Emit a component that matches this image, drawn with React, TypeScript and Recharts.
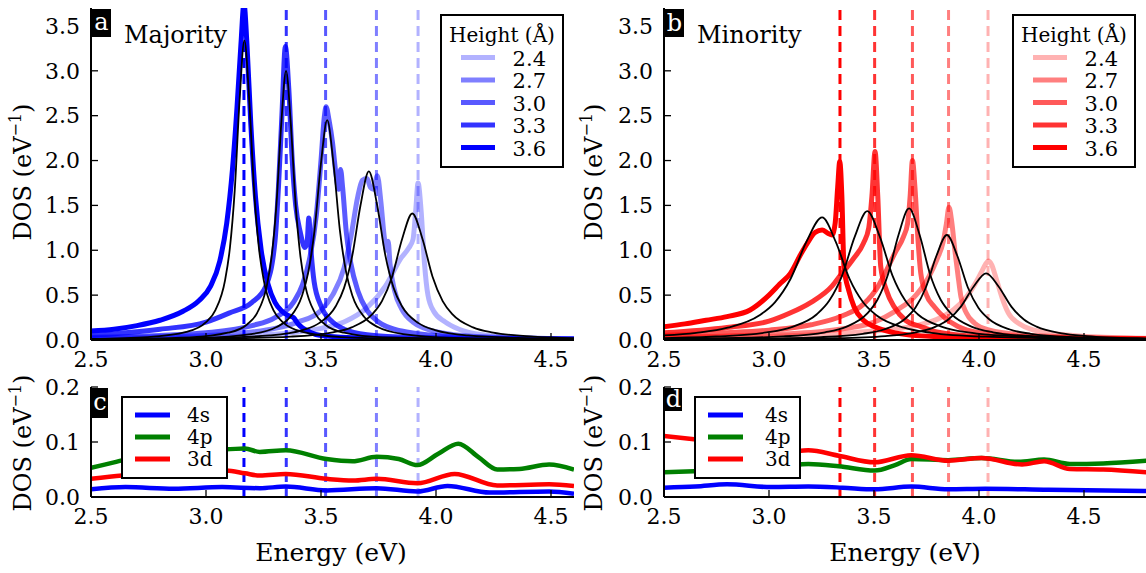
import React from 'react';
import { LineChart, Line, XAxis, YAxis, ReferenceLine } from 'recharts';

type Pair = [number, number];

// ---------- labels / ticks ----------
const heightLabels = ['2.4', '2.7', '3.0', '3.3', '3.6'];
const orbitalLabels = ['4s', '4p', '3d'];
const xTicks = [2.5, 3.0, 3.5, 4.0, 4.5];
const topYTicks = [0, 0.5, 1.0, 1.5, 2.0, 2.5, 3.0, 3.5];
const bottomYTicks = [0, 0.1, 0.2];

// vertical dashed markers (ordered 2.4 .. 3.6)
const majDashX = [3.922, 3.741, 3.52, 3.349, 3.165];
const minDashX = [4.043, 3.855, 3.683, 3.503, 3.338];

// ---------- Majority DOS (thick) ----------
const majThick24: Pair[] = [[2.5,0.01],[2.8,0.02],[3.0,0.03],[3.2,0.05],[3.4,0.09],[3.5,0.13],[3.6,0.2],[3.7,0.36],[3.78,0.6],[3.85,0.92],[3.88,1.02],[3.9,1.12],[3.912,1.45],[3.922,1.75],[3.935,1.45],[3.95,0.85],[3.965,0.5],[3.99,0.32],[4.04,0.2],[4.1,0.12],[4.2,0.06],[4.4,0.025],[4.6,0.012]];
const majThick27: Pair[] = [[2.5,0.02],[2.8,0.035],[3.0,0.05],[3.2,0.09],[3.3,0.13],[3.4,0.2],[3.5,0.33],[3.55,0.5],[3.6,0.8],[3.63,1.15],[3.66,1.6],[3.68,1.78],[3.7,1.8],[3.715,1.7],[3.728,1.68],[3.745,1.83],[3.76,1.55],[3.775,1.15],[3.785,1.0],[3.792,1.1],[3.8,0.85],[3.82,0.55],[3.85,0.35],[3.9,0.2],[3.95,0.13],[4.05,0.07],[4.2,0.035],[4.6,0.01]];
const majThick30: Pair[] = [[2.5,0.03],[2.8,0.05],[3.0,0.08],[3.2,0.16],[3.3,0.25],[3.38,0.42],[3.42,0.62],[3.45,0.9],[3.48,1.4],[3.5,2.0],[3.515,2.5],[3.522,2.6],[3.535,2.45],[3.55,2.2],[3.565,1.85],[3.577,1.68],[3.585,1.9],[3.594,1.7],[3.61,1.2],[3.63,0.85],[3.66,0.55],[3.7,0.33],[3.75,0.2],[3.85,0.1],[4.0,0.05],[4.2,0.025],[4.6,0.01]];
const majThick33: Pair[] = [[2.5,0.05],[2.8,0.12],[3.0,0.2],[3.1,0.3],[3.2,0.42],[3.26,0.6],[3.3,1.1],[3.315,1.7],[3.33,2.5],[3.345,3.27],[3.36,2.8],[3.375,2.0],[3.39,1.5],[3.41,1.2],[3.43,1.03],[3.44,1.1],[3.447,1.36],[3.455,1.05],[3.47,0.65],[3.5,0.38],[3.55,0.2],[3.6,0.12],[3.7,0.06],[3.9,0.03],[4.6,0.01]];
const majThick36: Pair[] = [[2.5,0.1],[2.6,0.12],[2.7,0.16],[2.8,0.22],[2.9,0.32],[2.97,0.44],[3.02,0.6],[3.06,0.88],[3.09,1.3],[3.115,1.9],[3.135,2.6],[3.152,3.3],[3.165,3.75],[3.178,3.3],[3.195,2.4],[3.215,1.6],[3.24,1.0],[3.27,0.62],[3.3,0.42],[3.33,0.32],[3.36,0.27],[3.38,0.25],[3.4,0.18],[3.45,0.09],[3.5,0.05],[3.7,0.02],[4.0,0.01],[4.6,0.005]];

// ---------- Majority fits (black) ----------
const majFit24: Pair[] = [[2.5,0.006],[3.017,0.014],[3.369,0.038],[3.545,0.083],[3.633,0.141],[3.721,0.282],[3.765,0.434],[3.809,0.705],[3.853,1.128],[3.897,1.41],[3.941,1.128],[3.985,0.705],[4.029,0.434],[4.073,0.282],[4.161,0.141],[4.249,0.083],[4.425,0.038],[4.6,0.021]];
const majFit27: Pair[] = [[2.5,0.007],[2.988,0.019],[3.276,0.051],[3.42,0.111],[3.492,0.188],[3.564,0.376],[3.6,0.578],[3.636,0.94],[3.672,1.504],[3.708,1.88],[3.744,1.504],[3.78,0.94],[3.816,0.578],[3.852,0.376],[3.924,0.188],[3.996,0.111],[4.14,0.051],[4.428,0.019],[4.6,0.012]];
const majFit30: Pair[] = [[2.5,0.007],[2.977,0.024],[3.197,0.066],[3.307,0.144],[3.362,0.245],[3.417,0.49],[3.4445,0.754],[3.472,1.225],[3.4995,1.96],[3.527,2.45],[3.5545,1.96],[3.582,1.225],[3.6095,0.754],[3.637,0.49],[3.692,0.245],[3.747,0.144],[3.857,0.066],[4.077,0.024],[4.6,0.006]];
const majFit33: Pair[] = [[2.5,0.007],[2.928,0.03],[3.096,0.081],[3.18,0.176],[3.222,0.3],[3.264,0.6],[3.285,0.923],[3.306,1.5],[3.327,2.4],[3.348,3.0],[3.369,2.4],[3.39,1.5],[3.411,0.923],[3.432,0.6],[3.474,0.3],[3.516,0.176],[3.6,0.081],[3.768,0.03],[4.6,0.003]];
const majFit36: Pair[] = [[2.5,0.013],[2.747,0.033],[2.915,0.09],[2.999,0.196],[3.041,0.334],[3.083,0.668],[3.104,1.028],[3.125,1.67],[3.146,2.672],[3.167,3.34],[3.188,2.672],[3.209,1.67],[3.23,1.028],[3.251,0.668],[3.293,0.334],[3.335,0.196],[3.419,0.09],[3.587,0.033],[4.0,0.008],[4.6,0.003]];

// ---------- Minority DOS (thick) ----------
const minThick24: Pair[] = [[2.5,0.02],[3.0,0.04],[3.3,0.07],[3.5,0.1],[3.7,0.16],[3.8,0.23],[3.88,0.34],[3.94,0.48],[3.98,0.62],[4.01,0.75],[4.03,0.84],[4.045,0.88],[4.06,0.84],[4.08,0.7],[4.11,0.47],[4.14,0.3],[4.2,0.17],[4.3,0.09],[4.45,0.05],[4.6,0.03],[4.8,0.02]];
const minThick27: Pair[] = [[2.5,0.03],[3.0,0.06],[3.3,0.11],[3.5,0.2],[3.6,0.32],[3.7,0.5],[3.76,0.7],[3.8,0.9],[3.83,1.1],[3.845,1.3],[3.857,1.48],[3.87,1.32],[3.885,1.0],[3.9,0.72],[3.914,0.48],[3.94,0.3],[3.978,0.19],[4.05,0.11],[4.2,0.06],[4.5,0.03],[4.8,0.015]];
const minThick30: Pair[] = [[2.5,0.05],[2.8,0.08],[3.0,0.11],[3.2,0.17],[3.35,0.27],[3.45,0.4],[3.52,0.6],[3.56,0.78],[3.6,0.97],[3.64,1.15],[3.66,1.3],[3.672,1.6],[3.683,2.0],[3.695,1.7],[3.71,1.1],[3.723,0.74],[3.75,0.5],[3.787,0.37],[3.84,0.24],[3.9,0.15],[4.0,0.08],[4.2,0.04],[4.5,0.02],[4.8,0.01]];
const minThick33: Pair[] = [[2.5,0.08],[2.8,0.14],[3.0,0.21],[3.1,0.3],[3.2,0.42],[3.3,0.6],[3.34,0.72],[3.4,0.9],[3.45,1.08],[3.475,1.25],[3.49,1.6],[3.505,2.1],[3.518,1.6],[3.532,0.82],[3.56,0.55],[3.596,0.37],[3.65,0.22],[3.723,0.15],[3.8,0.09],[4.0,0.04],[4.4,0.02],[4.8,0.01]];
const minThick36: Pair[] = [[2.5,0.148],[2.6,0.18],[2.7,0.22],[2.8,0.26],[2.91,0.334],[3.0,0.5],[3.05,0.62],[3.102,0.743],[3.15,0.95],[3.182,1.077],[3.22,1.2],[3.253,1.225],[3.28,1.19],[3.3,1.17],[3.315,1.3],[3.327,1.7],[3.337,1.99],[3.347,1.6],[3.357,0.82],[3.38,0.55],[3.405,0.37],[3.45,0.22],[3.5,0.15],[3.6,0.08],[3.7,0.05],[4.0,0.025],[4.8,0.01]];

// ---------- Minority fits (black) ----------
const minFit24: Pair[] = [[2.5,0.0045],[2.834,0.0074],[3.314,0.02],[3.554,0.044],[3.674,0.074],[3.794,0.149],[3.854,0.229],[3.914,0.372],[3.974,0.594],[4.034,0.743],[4.094,0.594],[4.154,0.372],[4.214,0.229],[4.274,0.149],[4.394,0.074],[4.514,0.044],[4.754,0.02],[4.8,0.018]];
const minFit27: Pair[] = [[2.5,0.0064],[2.847,0.0116],[3.247,0.032],[3.447,0.069],[3.547,0.117],[3.647,0.234],[3.697,0.36],[3.747,0.585],[3.797,0.936],[3.847,1.17],[3.897,0.936],[3.947,0.585],[3.997,0.36],[4.047,0.234],[4.147,0.117],[4.247,0.069],[4.447,0.032],[4.8,0.0127]];
const minFit30: Pair[] = [[2.5,0.0107],[2.667,0.0145],[3.067,0.04],[3.267,0.086],[3.367,0.147],[3.467,0.293],[3.517,0.451],[3.567,0.733],[3.617,1.173],[3.667,1.466],[3.717,1.173],[3.767,0.733],[3.817,0.451],[3.867,0.293],[3.967,0.147],[4.067,0.086],[4.267,0.04],[4.667,0.0145],[4.8,0.0114]];
const minFit33: Pair[] = [[2.5,0.022],[2.748,0.039],[2.988,0.084],[3.108,0.144],[3.228,0.287],[3.288,0.442],[3.348,0.718],[3.408,1.149],[3.468,1.436],[3.528,1.149],[3.588,0.718],[3.648,0.442],[3.708,0.287],[3.828,0.144],[3.948,0.084],[4.188,0.039],[4.668,0.014],[4.8,0.0115]];
const minFit36: Pair[] = [[2.5,0.052],[2.653,0.08],[2.803,0.137],[2.953,0.273],[3.028,0.42],[3.103,0.683],[3.178,1.093],[3.253,1.366],[3.318,1.093],[3.383,0.683],[3.448,0.42],[3.513,0.273],[3.643,0.137],[3.773,0.08],[4.033,0.037],[4.553,0.0135],[4.8,0.0096]];

// ---------- Orbital-projected DOS ----------
const maj4s: Pair[] = [[2.5,0.014],[2.65,0.018],[2.86,0.015],[3.07,0.018],[3.234,0.016],[3.347,0.019],[3.524,0.012],[3.742,0.016],[3.919,0.01],[4.05,0.02],[4.234,0.008],[4.492,0.01],[4.6,0.006]];
const maj4p: Pair[] = [[2.5,0.053],[2.6,0.063],[2.75,0.078],[2.9,0.085],[3.0,0.087],[3.088,0.087],[3.169,0.088],[3.234,0.082],[3.347,0.085],[3.524,0.069],[3.637,0.065],[3.742,0.073],[3.838,0.069],[3.919,0.058],[4.008,0.078],[4.097,0.097],[4.186,0.072],[4.266,0.05],[4.363,0.051],[4.492,0.059],[4.6,0.05]];
const maj3d: Pair[] = [[2.5,0.033],[2.636,0.039],[2.8,0.042],[3.0,0.045],[3.088,0.048],[3.169,0.043],[3.234,0.039],[3.347,0.042],[3.524,0.033],[3.64,0.03],[3.742,0.033],[3.919,0.025],[4.081,0.042],[4.266,0.021],[4.492,0.023],[4.6,0.02]];
const min4s: Pair[] = [[2.5,0.017],[2.65,0.019],[2.8,0.023],[3.01,0.018],[3.187,0.019],[3.35,0.017],[3.503,0.014],[3.678,0.019],[3.854,0.014],[4.03,0.015],[4.33,0.013],[4.8,0.011]];
const min4p: Pair[] = [[2.5,0.045],[2.643,0.047],[2.9,0.052],[3.143,0.059],[3.187,0.06],[3.332,0.056],[3.503,0.048],[3.6,0.058],[3.678,0.069],[3.854,0.067],[4.012,0.071],[4.188,0.064],[4.31,0.068],[4.433,0.06],[4.591,0.061],[4.8,0.066]];
const min3d: Pair[] = [[2.5,0.111],[2.643,0.105],[2.85,0.095],[3.0,0.088],[3.143,0.084],[3.187,0.085],[3.332,0.075],[3.503,0.063],[3.678,0.076],[3.854,0.066],[4.012,0.071],[4.205,0.059],[4.31,0.065],[4.433,0.051],[4.591,0.05],[4.8,0.045]];

const majThick = [majThick24, majThick27, majThick30, majThick33, majThick36];
const majFit = [majFit24, majFit27, majFit30, majFit33, majFit36];
const minThick = [minThick24, minThick27, minThick30, minThick33, minThick36];
const minFit = [minFit24, minFit27, minFit30, minFit33, minFit36];
const majOrb = [maj4s, maj4p, maj3d];
const minOrb = [min4s, min4p, min3d];

// ---------- styles ----------
const FONT = '"DejaVu Serif", "Liberation Serif", "Noto Serif", "Times New Roman", Times, serif';
const heightAlpha = [0.3, 0.5, 0.65, 0.8, 1];
const orbitalColors = ['#0000ff', '#008000', '#ff0000'];

const toObj = (p: Pair[]) => p.map(([x, y]) => ({ x, y }));
const fmt1 = (v: number) => v.toFixed(1);
const blank = () => '';

type PanelProps = {
  left: number; top: number; width: number; height: number;
  marginTop: number; marginRight: number; yAxisWidth: number; xAxisHeight: number;
  xMax: number; yMax: number; yTicks: number[];
  dashX: number[]; color: string;
  thick?: Pair[][]; fits?: Pair[][]; orbitals?: Pair[][];
};

function Panel(p: PanelProps) {
  const tickStyle = { fontSize: 22, fill: '#000', style: { fontFamily: FONT } };
  const axisLine = { stroke: '#000', strokeWidth: 2 };
  const tickLine = { stroke: '#000', strokeWidth: 1.3 };
  return (
    <div style={{ position: 'absolute', left: p.left, top: p.top, fontFamily: FONT }}>
      <LineChart width={p.width} height={p.height} margin={{ top: p.marginTop, right: p.marginRight, left: 0, bottom: 0 }}>
        <XAxis xAxisId="b" dataKey="x" type="number" domain={[2.5, p.xMax]} ticks={xTicks} interval={0}
          allowDataOverflow orientation="bottom" height={p.xAxisHeight} tickSize={-7} tickMargin={18}
          tick={tickStyle} tickFormatter={fmt1} axisLine={axisLine} tickLine={tickLine} />
        <XAxis xAxisId="t" dataKey="x" type="number" domain={[2.5, p.xMax]} ticks={xTicks} interval={0}
          allowDataOverflow orientation="top" height={0} tickSize={-7} tickMargin={0}
          tick={tickStyle} tickFormatter={blank} axisLine={axisLine} tickLine={tickLine} />
        <YAxis yAxisId="l" type="number" domain={[0, p.yMax]} ticks={p.yTicks} interval={0}
          allowDataOverflow width={p.yAxisWidth} tickSize={-7} tickMargin={18}
          tick={tickStyle} tickFormatter={fmt1} axisLine={axisLine} tickLine={tickLine} />
        <YAxis yAxisId="r" orientation="right" type="number" domain={[0, p.yMax]} ticks={p.yTicks} interval={0}
          allowDataOverflow width={0} tickSize={-7} tickMargin={0}
          tick={tickStyle} tickFormatter={blank} axisLine={axisLine} tickLine={tickLine} />
        {p.orbitals && p.dashX.map((x, i) => (
          <ReferenceLine key={'d' + i} x={x} xAxisId="b" yAxisId="l" stroke={p.color}
            strokeOpacity={heightAlpha[i]} strokeWidth={3} strokeDasharray="9 6" />
        ))}
        {p.thick && p.thick.map((d, i) => (
          <Line key={'t' + i} data={toObj(d)} dataKey="y" xAxisId="b" yAxisId="l" type="monotone"
            stroke={p.color} strokeOpacity={heightAlpha[i]} strokeWidth={5} dot={false}
            activeDot={false} isAnimationActive={false} />
        ))}
        {p.thick && p.dashX.map((x, i) => (
          <ReferenceLine key={'e' + i} x={x} xAxisId="b" yAxisId="l" stroke={p.color}
            strokeOpacity={heightAlpha[i]} strokeWidth={3} strokeDasharray="10 6" />
        ))}
        {p.fits && p.fits.map((d, i) => (
          <Line key={'f' + i} data={toObj(d)} dataKey="y" xAxisId="b" yAxisId="l" type="monotone"
            stroke="#000" strokeWidth={1.8} dot={false} activeDot={false} isAnimationActive={false} />
        ))}
        {p.orbitals && p.orbitals.map((d, i) => (
          <Line key={'o' + i} data={toObj(d)} dataKey="y" xAxisId="b" yAxisId="l" type="monotone"
            stroke={orbitalColors[i]} strokeWidth={4.5} dot={false} activeDot={false} isAnimationActive={false} />
        ))}
      </LineChart>
    </div>
  );
}

const txt = { fontFamily: FONT } as React.CSSProperties;

function YLabel({ x, y }: { x: number; y: number }) {
  return (
    <text x={x} y={y} transform={`rotate(-90 ${x} ${y})`} textAnchor="middle" style={txt} fontSize={24} fill="#000">
      DOS (eV<tspan fontSize={16} dy={-10}>−1</tspan><tspan dy={10}>)</tspan>
    </text>
  );
}

function HeightLegend({ x, y, color, lineX, labelX }: { x: number; y: number; color: string; lineX: number; labelX: number }) {
  return (
    <g>
      <rect x={x} y={y} width={122} height={152} fill="#fff" stroke="#000" strokeWidth={2} />
      <text x={x + 61} y={y + 27} textAnchor="middle" style={txt} fontSize={20} fill="#000">Height (Å)</text>
      {heightLabels.map((h, i) => {
        const cy = y + 42.5 + i * 22.5;
        return (
          <g key={h}>
            <line x1={x + lineX} x2={x + lineX + 34} y1={cy} y2={cy} stroke={color} strokeOpacity={heightAlpha[i]} strokeWidth={5} />
            <text x={x + labelX} y={cy + 8} textAnchor="end" style={txt} fontSize={21} fill="#000">{h}</text>
          </g>
        );
      })}
    </g>
  );
}

function OrbitalLegend({ x, y, labelX }: { x: number; y: number; labelX: number }) {
  return (
    <g>
      <rect x={x} y={y} width={105} height={81} fill="#fff" stroke="#000" strokeWidth={2} />
      {orbitalLabels.map((o, i) => {
        const cy = y + 18 + i * 22;
        return (
          <g key={o}>
            <line x1={x + 13} x2={x + 48} y1={cy} y2={cy} stroke={orbitalColors[i]} strokeWidth={5} />
            <text x={x + labelX} y={cy + 7} style={txt} fontSize={20} fill="#000">{o}</text>
          </g>
        );
      })}
    </g>
  );
}

function Tag({ x, y, w, h, t, by }: { x: number; y: number; w: number; h: number; t: string; by: number }) {
  return (
    <g>
      <rect x={x} y={y} width={w} height={h} fill="#000" />
      <text x={x + w / 2} y={by} textAnchor="middle" style={txt} fontSize={24} fill="#fff">{t}</text>
    </g>
  );
}

export default function App() {
  return (
    <div style={{ position: 'absolute', left: 0, top: 0, width: 1146, height: 573, background: '#fff', overflow: 'hidden', fontFamily: FONT }}>
      <Panel left={0} top={0} width={580} height={378} marginTop={8} marginRight={6} yAxisWidth={91} xAxisHeight={38}
        xMax={4.6} yMax={3.7} yTicks={topYTicks} dashX={majDashX} color="#0000ff" thick={majThick} fits={majFit} />
      <Panel left={570} top={0} width={577} height={378} marginTop={8} marginRight={0} yAxisWidth={94} xAxisHeight={38}
        xMax={4.8} yMax={3.7} yTicks={topYTicks} dashX={minDashX} color="#ff0000" thick={minThick} fits={minFit} />
      <Panel left={0} top={376} width={580} height={197} marginTop={11} marginRight={6} yAxisWidth={91} xAxisHeight={76}
        xMax={4.6} yMax={0.2} yTicks={bottomYTicks} dashX={majDashX} color="#0000ff" orbitals={majOrb} />
      <Panel left={570} top={376} width={577} height={197} marginTop={11} marginRight={0} yAxisWidth={94} xAxisHeight={76}
        xMax={4.8} yMax={0.2} yTicks={bottomYTicks} dashX={minDashX} color="#ff0000" orbitals={minOrb} />
      <svg width={1146} height={573} style={{ position: 'absolute', left: 0, top: 0, pointerEvents: 'none' }}>
        <Tag x={92} y={9} w={19} h={28} t="a" by={30} />
        <Tag x={665} y={9} w={19} h={28} t="b" by={31} />
        <Tag x={92} y={388} w={16} h={30} t="c" by={410} />
        <Tag x={665} y={388} w={17} h={23} t="d" by={407} />
        <text x={124} y={43} style={txt} fontSize={24} fill="#000">Majority</text>
        <text x={697} y={43} style={txt} fontSize={24} fill="#000">Minority</text>
        <HeightLegend x={441} y={15} color="#0000ff" lineX={20} labelX={105} />
        <HeightLegend x={1013} y={15} color="#ff0000" lineX={20} labelX={105} />
        <OrbitalLegend x={122} y={397} labelX={65} />
        <OrbitalLegend x={695} y={397} labelX={70} />
        <YLabel x={31} y={172} />
        <YLabel x={31} y={443} />
        <YLabel x={602} y={172} />
        <YLabel x={602} y={443} />
        <text x={331} y={561} textAnchor="middle" style={txt} fontSize={25} fill="#000">Energy (eV)</text>
        <text x={905} y={561} textAnchor="middle" style={txt} fontSize={25} fill="#000">Energy (eV)</text>
      </svg>
    </div>
  );
}
